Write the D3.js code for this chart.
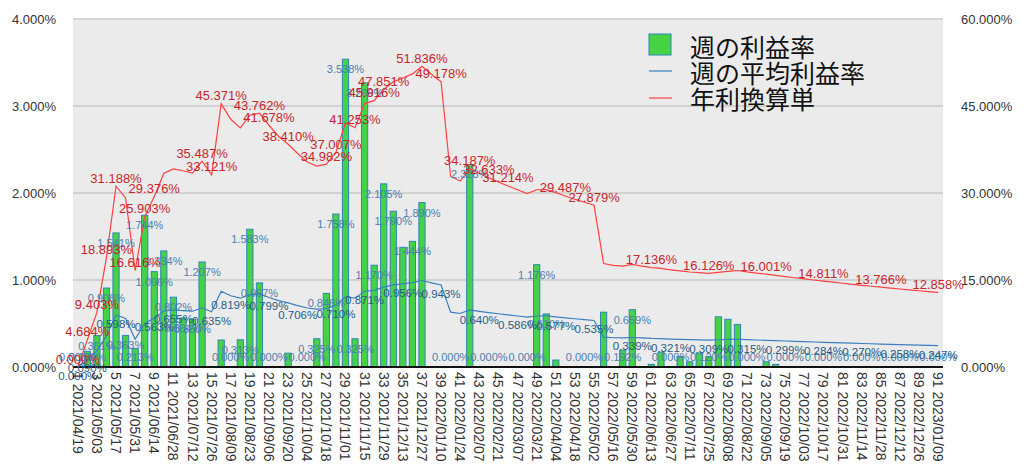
<!DOCTYPE html>
<html><head><meta charset="utf-8">
<script src="https://cdn.jsdelivr.net/npm/d3@7"></script>
<style>body{margin:0;background:#fff}svg{display:block}</style>
</head><body><svg id="c" width="1024" height="471"></svg>
<script>
const dates = ["2021/04/19","2021/04/26","2021/05/03","2021/05/10","2021/05/17","2021/05/24","2021/05/31","2021/06/07","2021/06/14","2021/06/21",
"2021/06/28","2021/07/05","2021/07/12","2021/07/19","2021/07/26","2021/08/02","2021/08/09","2021/08/16","2021/08/23","2021/08/30",
"2021/09/06","2021/09/13","2021/09/20","2021/09/27","2021/10/04","2021/10/11","2021/10/18","2021/10/25","2021/11/01","2021/11/08",
"2021/11/15","2021/11/22","2021/11/29","2021/12/06","2021/12/13","2021/12/20","2021/12/27","2022/01/03","2022/01/10","2022/01/17",
"2022/01/24","2022/01/31","2022/02/07","2022/02/14","2022/02/21","2022/02/28","2022/03/07","2022/03/14","2022/03/21","2022/03/28",
"2022/04/04","2022/04/11","2022/04/18","2022/04/25","2022/05/02","2022/05/09","2022/05/16","2022/05/23","2022/05/30","2022/06/06",
"2022/06/13","2022/06/20","2022/06/27","2022/07/04","2022/07/11","2022/07/18","2022/07/25","2022/08/01","2022/08/08","2022/08/15",
"2022/08/22","2022/08/29","2022/09/05","2022/09/12","2022/09/19","2022/09/26","2022/10/03","2022/10/10","2022/10/17","2022/10/24",
"2022/10/31","2022/11/07","2022/11/14","2022/11/21","2022/11/28","2022/12/05","2022/12/12","2022/12/19","2022/12/26","2023/01/02",
"2023/01/09"];

// 週の利益率 (%)
const weekly = [0,0.180,0.361,0.908,1.541,0.363,0.213,1.744,1.096,1.334,
0.802,0.564,0.550,1.207,0,0.310,0,0.313,1.583,0.967,
0,0,0.159,0,0,0.325,0.846,1.758,3.538,0.325,
3.266,1.170,2.105,1.790,1.376,1.444,1.890,0,0,0,
0,2.328,0,0,0,0,0,0,1.176,0.610,
0.080,0,0,0,0,0.630,0,0.192,0.659,0,
0.030,0.170,0,0.120,0.060,0.160,0.120,0.577,0.548,0.489,
0,0,0.060,0.030,0,0,0,0,0,0,
0,0,0,0,0,0,0,0,0,0,
0];

// 週の平均利益率 (%)
const average = [0,0.0898,0.1803,0.3623,0.5981,0.5589,0.3187,0.4968,0.5634,0.6405,
0.6552,0.6488,0.6412,0.6806,0.6352,0.8702,0.8190,0.7908,0.8325,0.8393,
0.7993,0.7630,0.7367,0.7060,0.6778,0.6642,0.6709,0.7098,0.8072,0.7912,
0.8711,0.8806,0.9177,0.9431,0.9555,0.9691,0.9942,0.9678,0.9432,0.6300,
0.6149,0.6557,0.6404,0.6259,0.6120,0.5987,0.5859,0.5737,0.5860,0.5865,
0.5766,0.5655,0.5548,0.5446,0.5347,0.3423,0.3363,0.3338,0.3393,0.3337,
0.3287,0.3262,0.3211,0.3180,0.3141,0.3118,0.3093,0.3131,0.3165,0.3190,
0.3145,0.3101,0.3069,0.3031,0.2991,0.2951,0.2913,0.2876,0.2841,0.2804,
0.2769,0.2735,0.2702,0.2670,0.2640,0.2609,0.2579,0.2550,0.2521,0.2493,
0.2466];

// 年利換算単 (%)
const annual = [0,4.684,9.403,18.893,31.188,29.143,16.616,25.903,29.376,33.397,
34.164,33.830,33.434,35.487,33.121,45.371,42.705,41.235,43.409,43.762,
41.678,39.785,38.410,36.813,35.342,34.633,34.982,37.007,42.090,41.253,
45.422,45.916,47.851,49.176,49.823,50.532,51.836,50.464,49.178,32.850,
32.063,34.187,33.392,32.633,31.912,31.214,30.550,29.914,30.556,30.582,
30.066,29.487,28.929,28.397,27.879,17.849,17.536,17.405,17.692,17.400,
17.136,17.009,16.743,16.581,16.378,16.258,16.126,16.326,16.503,16.634,
16.399,16.170,16.001,15.805,15.596,15.387,15.189,14.996,14.811,14.621,
14.438,14.261,14.089,13.922,13.766,13.604,13.448,13.296,13.145,12.999,
12.858];

const leftTicks = [0,1,2,3,4];
const rightTicks = [0,15,30,45,60];
const legendLabels = ["週の利益率","週の平均利益率","年利換算単"];

// weeks (1-based) whose value labels are visible
const barLabelWeeks = [1,2,3,4,5,6,7,8,9,10,11,12,13,14,17,18,19,20,21,25,26,27,28,29,30,31,32,33,34,36,37,40,42,44,48,49,50,54,58,59,63,67,71,75,79,83,87,91];
const avgLabelWeeks = [1,2,5,9,11,15,17,21,24,28,31,35,39,43,47,51,55,59,63,67,71,75,79,83,87,91];
const annualLabelWeeks = [1,2,3,4,5,7,8,9,14,15,16,20,21,23,27,28,30,32,33,37,39,42,44,46,52,55,61,67,73,79,85,91];

const weeks = d3.range(1, dates.length + 1);
const svg = d3.select('#c');
const L = 73, R = 943, T = 19, B = 367;
const x = d3.scaleBand().domain(weeks).range([L, R]).paddingInner(0.35).paddingOuter(0.175);
const cx = w => x(w) + x.bandwidth() / 2;
const yL = d3.scaleLinear().domain([0, 4]).range([B, T]);
const yR = d3.scaleLinear().domain([0, 60]).range([B, T]);
const fmt = v => v.toFixed(3) + '%';
const FONT = '"Liberation Sans", Arial, Helvetica, sans-serif';

svg.append('rect').attr('x', L).attr('y', T).attr('width', R - L).attr('height', B - T).attr('fill', '#ebebeb');

// gridlines
svg.append('g').selectAll('line').data(leftTicks.filter(d => d > 0)).join('line')
  .attr('x1', L).attr('x2', R).attr('y1', d => yL(d)).attr('y2', d => yL(d))
  .attr('stroke', '#c9c9c9').attr('stroke-width', 1.6);

// left axis
const gl = svg.append('g').attr('transform', `translate(${L},0)`)
  .call(d3.axisLeft(yL).tickValues(leftTicks).tickSize(0).tickPadding(17).tickFormat(d => d.toFixed(3) + '%'));
gl.select('.domain').remove();
gl.selectAll('text').attr('font-family', FONT).attr('font-size', 13).attr('fill', '#333');

// right axis
const gr = svg.append('g').attr('transform', `translate(${R},0)`)
  .call(d3.axisRight(yR).tickValues(rightTicks).tickSize(0).tickPadding(18).tickFormat(d => d.toFixed(3) + '%'));
gr.select('.domain').remove();
gr.selectAll('text').attr('font-family', FONT).attr('font-size', 13).attr('fill', '#333');

// bars
svg.append('g').selectAll('rect').data(weeks).join('rect')
  .attr('x', w => x(w)).attr('width', x.bandwidth())
  .attr('y', w => yL(weekly[w - 1])).attr('height', w => B - yL(weekly[w - 1]))
  .attr('fill', '#45d345').attr('stroke', '#2f86b8').attr('stroke-width', 1);

// baseline
svg.append('line').attr('x1', L).attr('x2', R).attr('y1', B).attr('y2', B).attr('stroke', '#111').attr('stroke-width', 2);

// lines
svg.append('path').datum(weeks)
  .attr('d', d3.line().x(cx).y(w => yL(average[w - 1])))
  .attr('fill', 'none').attr('stroke', '#3a7fbf').attr('stroke-width', 1.2);
svg.append('path').datum(weeks)
  .attr('d', d3.line().x(cx).y(w => yR(annual[w - 1])))
  .attr('fill', 'none').attr('stroke', '#ff4040').attr('stroke-width', 1.2);

// bar labels
svg.append('g').selectAll('text').data(barLabelWeeks).join('text')
  .attr('x', cx).attr('y', w => Math.min(yL(weekly[w - 1]) + 10, 357))
  .attr('text-anchor', 'middle').attr('dominant-baseline', 'central')
  .attr('font-family', FONT).attr('font-size', 11).attr('fill', '#4a80ae')
  .text(w => fmt(weekly[w - 1]));

// average labels
svg.append('g').selectAll('text').data(avgLabelWeeks).join('text')
  .attr('x', cx).attr('y', w => yL(average[w - 1]) + 9)
  .attr('text-anchor', 'middle').attr('dominant-baseline', 'central')
  .attr('font-family', FONT).attr('font-size', 11.5).attr('fill', '#2a5b88')
  .text(w => fmt(average[w - 1]));

// annual labels
svg.append('g').selectAll('text').data(annualLabelWeeks).join('text')
  .attr('x', cx).attr('y', w => yR(annual[w - 1]) - 8)
  .attr('text-anchor', 'middle').attr('dominant-baseline', 'central')
  .attr('font-family', FONT).attr('font-size', 13).attr('fill', '#c8252a')
  .text(w => fmt(annual[w - 1]));

// x tick labels
svg.append('g').selectAll('text').data(weeks.filter(w => w % 2 === 1)).join('text')
  .attr('transform', w => `translate(${cx(w)},372) rotate(90)`)
  .attr('text-anchor', 'start').attr('dominant-baseline', 'central')
  .attr('font-family', FONT).attr('font-size', 14).attr('fill', '#333')
  .text(w => `${w} ${dates[w - 1]}`);

// legend
const lg = svg.append('g');
lg.append('rect').attr('x', 649).attr('y', 34).attr('width', 22).attr('height', 21)
  .attr('fill', '#45d345').attr('stroke', '#2f86b8').attr('stroke-width', 1);
lg.append('line').attr('x1', 649).attr('x2', 672).attr('y1', 71).attr('y2', 71).attr('stroke', '#3a7fbf').attr('stroke-width', 1.2);
lg.append('line').attr('x1', 649).attr('x2', 672).attr('y1', 98).attr('y2', 98).attr('stroke', '#ff4040').attr('stroke-width', 1.2);
lg.selectAll('text').data(legendLabels).join('text')
  .attr('x', 690).attr('y', (d, i) => 46 + i * 26)
  .attr('dominant-baseline', 'central')
  .attr('font-family', '"Noto Sans CJK JP", sans-serif').attr('font-size', 25).attr('fill', '#111')
  .text(d => d);
</script></body></html>
